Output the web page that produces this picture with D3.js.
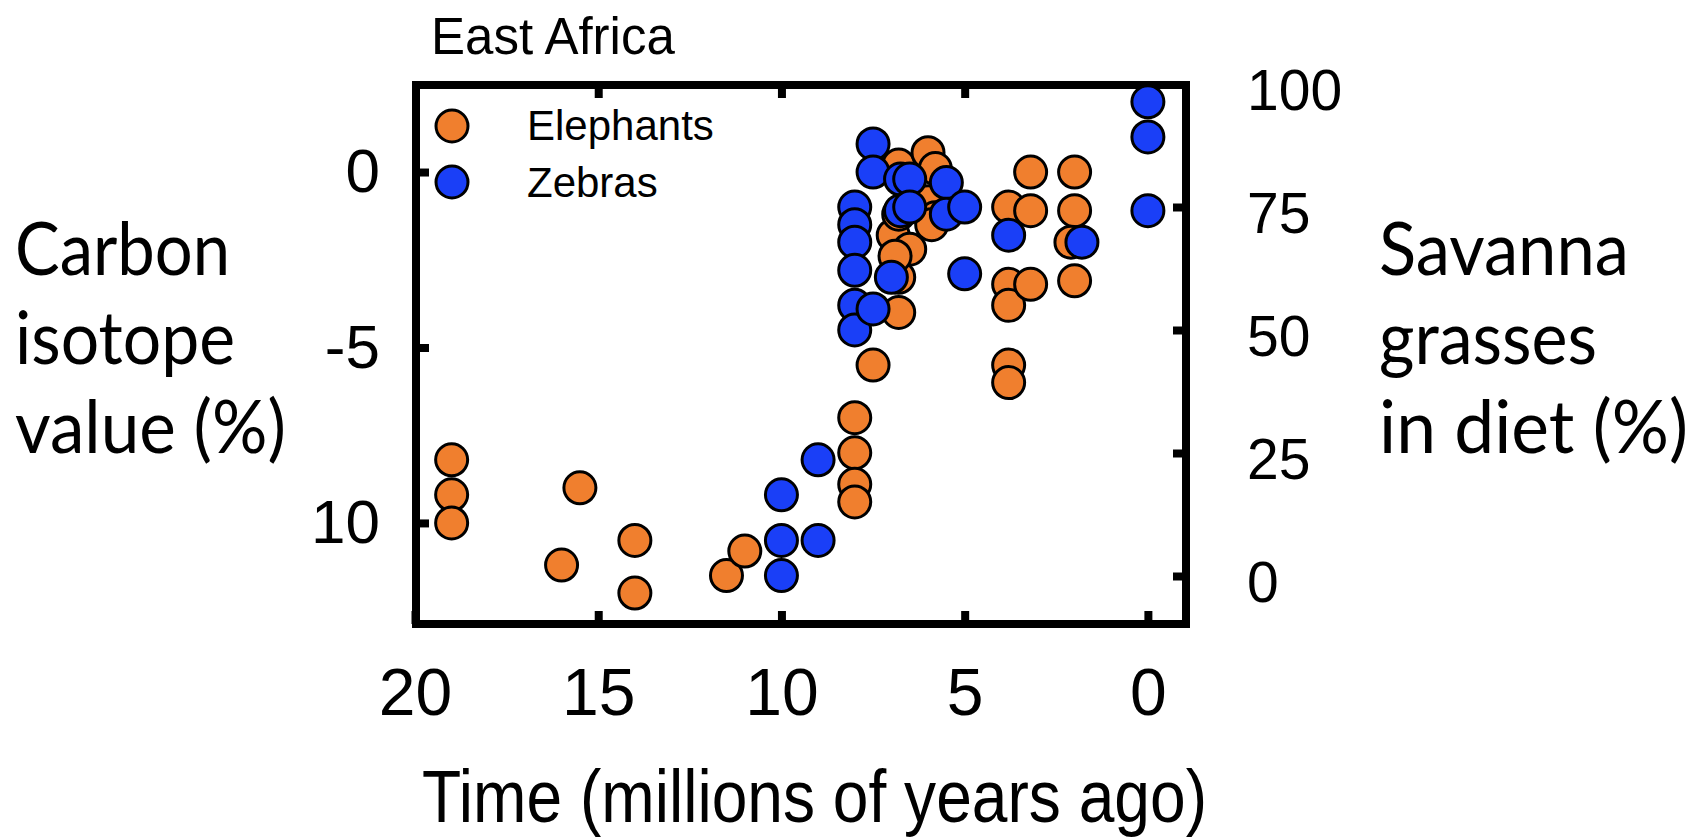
<!DOCTYPE html>
<html>
<head>
<meta charset="utf-8">
<script src="https://cdn.jsdelivr.net/npm/d3@7"></script>
<style>
  body { margin: 0; background: #fff; }
  svg { display: block; }
</style>
</head>
<body>
<div id="chart-area"></div>
<script>
// East Africa - carbon isotopes in elephant and zebra teeth

const elephantAge = [19, 19, 19, 16, 15.5, 14, 14, 11.5, 11,
  8, 8, 8, 8, 7.5,
  6.8, 6.8, 6.8, 6.95, 6.8, 6.5, 6.9, 6, 6, 5.8, 5.8, 5.9,
  3.8, 3.8, 3.8, 3.8, 3.8, 3.2, 3.2, 3.2, 2, 2, 2.1, 2]
const elephantIso = [-8.2, -9.2, -10, -11.2, -9, -10.5, -12, -11.5, -10.8,
  -7, -8, -8.9, -9.4, -5.5,
  0.2, -3, -4, -1.8, -1.2, -2.2, -2.4, 0.55, -0.85, 0.1, -1.3, -1.5,
  -1, -3.2, -3.8, -5.5, -6, 0, -1.1, -3.2, 0, -1.1, -2, -3.1]

const zebraAge = [10, 10, 10, 9, 9,
  8, 8, 8, 8, 8, 8, 7.5, 7.5, 7.5, 7,
  6.75, 6.75, 6.5, 6.5, 5.5, 5.5, 5, 5, 3.8, 1.8, 0, 0, 0]
const zebraIso = [-9.2, -10.5, -11.5, -8.2, -10.5,
  -1, -1.5, -2, -2.8, -3.8, -4.5, 0.8, 0, -3.9, -3,
  -0.2, -1.1, -0.2, -1, -0.3, -1.2, -1, -2.9, -1.8, -2, 2, 1, -1.1]

const xTicks = [20, 15, 10, 5, 0]
const yTicks = [0, -5, -10]
const yTickLabels = ["0", "-5", "10"]
const y2Ticks = [0, 25, 50, 75, 100]

const ORANGE = "#f07f2e"
const BLUE = "#1a3ff7"

const W = 1698, H = 839
const FRAME = { LEFT: 416, RIGHT: 1186, TOP: 85, BOTTOM: 624 }

const svg = d3.select("#chart-area").append("svg")
  .attr("width", W)
  .attr("height", H)

const x = d3.scaleLinear()
  .domain([20, -1.04])
  .range([FRAME.LEFT - 1, FRAME.RIGHT])

const y = d3.scaleLinear()
  .domain([-12.88, 2.48])
  .range([FRAME.BOTTOM, FRAME.TOP])

const y2 = d3.scaleLinear()
  .domain([0, 100])
  .range([576, 84])

const ARIAL = "'Liberation Sans', Arial, sans-serif"
const CALIBRI = "Lato, 'Open Sans', sans-serif"

// Axes (ticks inside the frame)
function styleAxis(sel, size) {
  sel.select(".domain").remove()
  sel.selectAll(".tick line")
    .attr("stroke", "#000")
    .attr("stroke-width", 8)
  sel.selectAll(".tick text")
    .attr("fill", "#000")
    .attr("font-family", ARIAL)
    .attr("font-size", size)
}

svg.append("g")
  .attr("transform", `translate(0, ${FRAME.BOTTOM})`)
  .call(d3.axisBottom(x).tickValues(xTicks).tickSize(-13).tickPadding(44).tickFormat(d => d))
  .call(g => styleAxis(g, 66))

svg.append("g")
  .attr("transform", `translate(0, ${FRAME.TOP})`)
  .call(d3.axisTop(x).tickValues(xTicks.slice(1)).tickSize(-13).tickFormat(""))
  .call(g => styleAxis(g, 0))

svg.append("g")
  .attr("transform", `translate(${FRAME.LEFT}, 0)`)
  .call(d3.axisLeft(y).tickValues(yTicks).tickSize(-13).tickPadding(36)
    .tickFormat((d, i) => yTickLabels[i]))
  .call(g => styleAxis(g, 62))

svg.append("g")
  .attr("transform", `translate(${FRAME.RIGHT}, 0)`)
  .call(d3.axisRight(y2).tickValues(y2Ticks).tickSize(-13).tickPadding(61))
  .call(g => styleAxis(g, 57))
  .call(g => g.selectAll(".tick line").filter(d => d === 100).remove())
  .call(g => g.selectAll(".tick text").attr("dy", "0.45em"))

// Frame
svg.append("rect")
  .attr("x", FRAME.LEFT)
  .attr("y", FRAME.TOP)
  .attr("width", FRAME.RIGHT - FRAME.LEFT)
  .attr("height", FRAME.BOTTOM - FRAME.TOP)
  .attr("fill", "none")
  .attr("stroke", "#000")
  .attr("stroke-width", 8)

// Points: elephants first, zebras on top
const elephants = elephantAge.map((a, i) => ({ age: a, iso: elephantIso[i] }))
const zebras = zebraAge.map((a, i) => ({ age: a, iso: zebraIso[i] }))

svg.append("g").selectAll("circle")
  .data(elephants)
  .enter().append("circle")
    .attr("cx", d => x(d.age))
    .attr("cy", d => y(d.iso))
    .attr("r", 16)
    .attr("fill", ORANGE)
    .attr("stroke", "#000")
    .attr("stroke-width", 3)

svg.append("g").selectAll("circle")
  .data(zebras)
  .enter().append("circle")
    .attr("cx", d => x(d.age))
    .attr("cy", d => y(d.iso))
    .attr("r", 16)
    .attr("fill", BLUE)
    .attr("stroke", "#000")
    .attr("stroke-width", 3)

// Legend
const legend = [
  { label: "Elephants", color: ORANGE, cy: 126, ty: 140 },
  { label: "Zebras", color: BLUE, cy: 182, ty: 197 }
]
legend.forEach(l => {
  svg.append("circle")
    .attr("cx", 452).attr("cy", l.cy).attr("r", 16)
    .attr("fill", l.color).attr("stroke", "#000").attr("stroke-width", 3)
  svg.append("text")
    .attr("x", 527).attr("y", l.ty)
    .attr("font-family", ARIAL).attr("font-size", 42)
    .text(l.label)
})

// Title
svg.append("text")
  .attr("x", 431).attr("y", 54)
  .attr("font-family", ARIAL).attr("font-size", 51)
  .text("East Africa")

// X label
svg.append("text")
  .attr("x", 422).attr("y", 822)
  .attr("font-family", ARIAL).attr("font-size", 74)
  .attr("textLength", 785).attr("lengthAdjust", "spacingAndGlyphs")
  .text("Time (millions of years ago)")

// Left Y label
const leftLines = [["Carbon", 215], ["isotope", 220], ["value (%)", 271]]
leftLines.forEach((l, i) => {
  svg.append("text")
    .attr("x", 15).attr("y", 275 + i * 89)
    .attr("font-family", CALIBRI).attr("font-size", 74)
    .attr("textLength", l[1]).attr("lengthAdjust", "spacingAndGlyphs")
    .text(l[0])
})

// Right Y label
const rightLines = [["Savanna", 250], ["grasses", 218], ["in diet (%)", 309]]
rightLines.forEach((l, i) => {
  svg.append("text")
    .attr("x", 1379).attr("y", 275 + i * 89)
    .attr("font-family", CALIBRI).attr("font-size", 74)
    .attr("textLength", l[1]).attr("lengthAdjust", "spacingAndGlyphs")
    .text(l[0])
})
</script>
</body>
</html>
